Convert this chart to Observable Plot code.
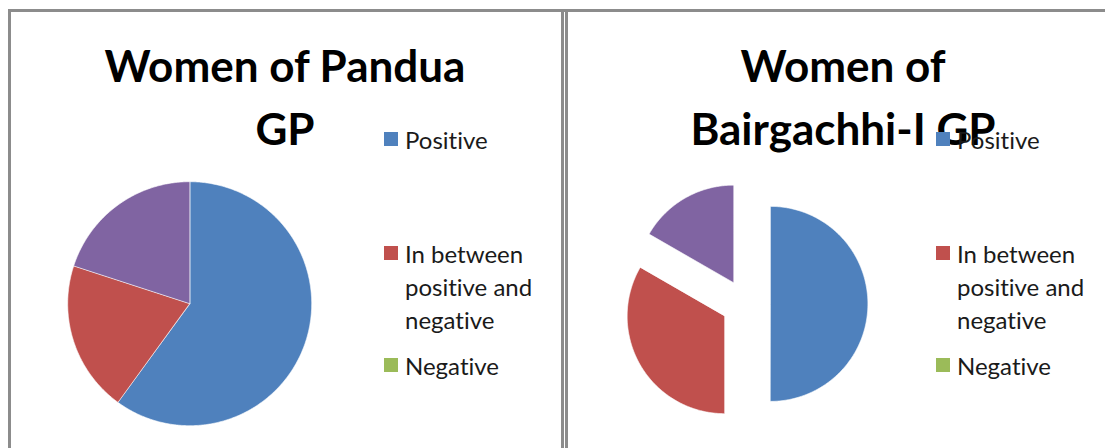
<!DOCTYPE html>
<html><head><meta charset="utf-8">
<script src="https://cdn.jsdelivr.net/npm/d3@7"></script>
<script src="https://cdn.jsdelivr.net/npm/@observablehq/plot@0.6"></script>
<style>
body{margin:0;background:#fff;font-family:Lato,"Open Sans",sans-serif;font-variant-ligatures:none;}
#root{position:relative;width:1105px;height:448px;overflow:hidden;background:#fff;}
.vline{position:absolute;top:9px;height:445px;width:3px;background:#8c8c8c;}
.hline{position:absolute;top:9px;height:3px;left:8px;width:1097px;background:#8c8c8c;}
.title{position:absolute;font-weight:700;font-size:44px;line-height:50px;white-space:nowrap;color:#000;transform:translateX(-50%);}
.leg{position:absolute;font-size:24px;line-height:33px;white-space:pre-line;color:#1a1a1a;font-variant-ligatures:none;}
.sw{position:absolute;width:14px;height:14px;}
.pie{position:absolute;}
</style></head><body><div id="root"></div>
<script>
// ---- data ----
const categories = ["Positive", "In between positive and negative", "Negative", "Other"];
const legendLabels = ["Positive", "In between\npositive and\nnegative", "Negative"];
const colors = ["#4F81BD", "#C0504D", "#9BBB59", "#8064A2"];
const titles = [["Women of Pandua", "GP"], ["Women of", "Bairgachhi-I GP"]];
const panduaValues = [60, 20, 0, 20];
const bairgachhiValues = [50, 33.3, 0, 16.7];

// ---- layout ----
const root = document.getElementById("root");
function add(cls, style, text) {
  const d = document.createElement("div");
  d.className = cls;
  Object.assign(d.style, style);
  if (text != null) d.textContent = text;
  root.appendChild(d);
  return d;
}
add("hline", {});
add("vline", {left: "8px"});
add("vline", {left: "561px"});
add("vline", {left: "565px"});

function slices(values, explode) {
  const arcs = d3.pie().sort(null).value(d => d)(values);
  const rows = [];
  arcs.forEach((a, i) => {
    const span = a.endAngle - a.startAngle;
    if (span <= 0) return;
    const k = categories[i];
    const mid = (a.startAngle + a.endAngle) / 2;
    const ox = explode * Math.sin(mid), oy = explode * Math.cos(mid);
    rows.push({k, x: ox, y: oy});
    const n = Math.max(2, Math.ceil(span / 0.01));
    for (let j = 0; j <= n; j++) {
      const t = a.startAngle + span * j / n;
      rows.push({k, x: ox + Math.sin(t), y: oy + Math.cos(t)});
    }
  });
  return rows;
}

function pie(values, explode, R, D, cx, cy) {
  const S = 2 * D * R;
  const svg = Plot.plot({
    width: S, height: S, margin: 0,
    x: {domain: [-D, D], axis: null},
    y: {domain: [-D, D], axis: null},
    color: {domain: categories, range: colors},
    marks: [
      Plot.line(slices(values, explode), {x: "x", y: "y", z: "k", fill: "k", stroke: "#ffffff", strokeWidth: 0.6, curve: "linear-closed"})
    ]
  });
  const wrap = add("pie", {left: (cx - S / 2) + "px", top: (cy - S / 2) + "px"});
  wrap.appendChild(svg);
}

pie(panduaValues, 0, 122, 1.1, 188.7, 303.3);
pie(bairgachhiValues, 24.5 / 97.5, 97.5, 1.45, 745, 303);

// titles (one div per line, centred)
const titleCx = [285, 843];
const lineTops = [40, 103];
titles.forEach((lines, p) => {
  lines.forEach((ln, j) => add("title", {left: titleCx[p] + "px", top: lineTops[j] + "px"}, ln));
});

// legends
const legendY = [139, 253, 365];
function legend(sqX) {
  legendLabels.forEach((lab, i) => {
    add("sw", {left: sqX + "px", top: (legendY[i] - 7) + "px", background: colors[i]});
    add("leg", {left: (sqX + 21) + "px", top: (legendY[i] - 16.5) + "px"}, lab);
  });
}
legend(384);
legend(936);
</script></body></html>
